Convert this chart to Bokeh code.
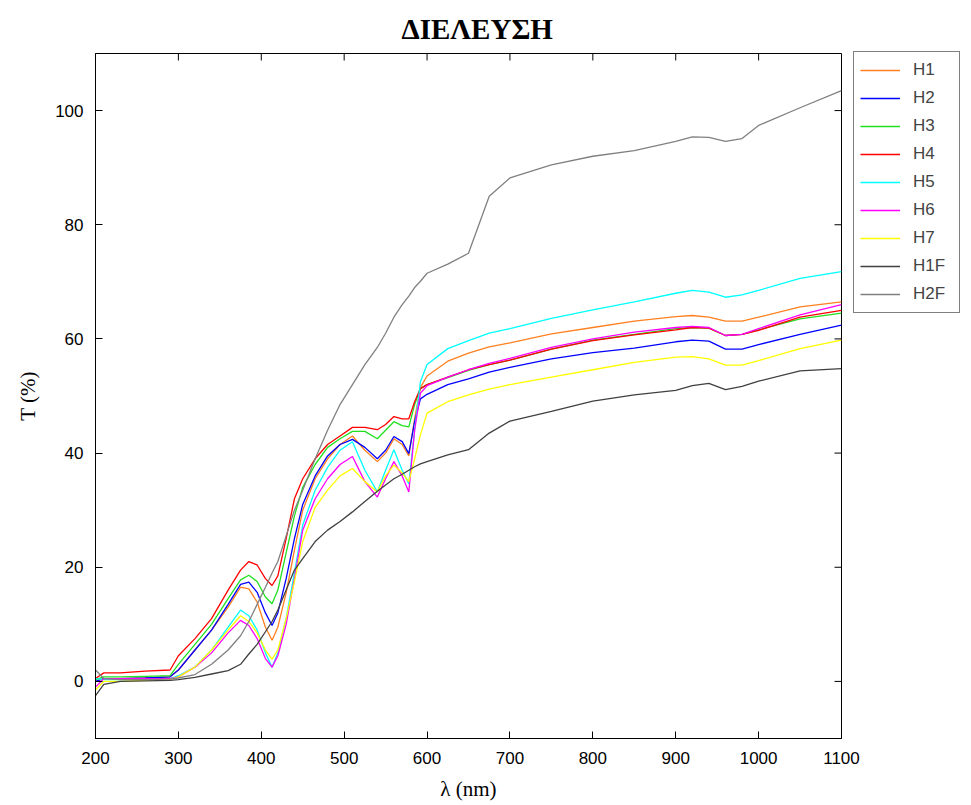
import math
from bokeh.plotting import figure
from bokeh.models import Range1d, Legend, LegendItem, FixedTicker
from bokeh.embed import file_html
from bokeh.resources import INLINE

# Wavelength grid (nm)
wavelength = [200, 210, 230, 260, 290, 300, 320, 340, 360, 375, 385, 395, 405, 413, 420,
              430, 440, 450, 465, 480, 495, 510, 525, 540, 550, 560, 570, 578, 585, 592,
              600, 625, 650, 675, 700, 750, 800, 850, 900, 920, 940, 960, 980, 1000, 1050, 1100]

H1 = [0, 0.5, 0.5, 0.6, 0.8, 2, 5.5, 9, 13, 16.5, 16.2, 13.9, 9.5, 7.2, 9.5,
      15.5, 23, 30, 35.5, 39, 41.5, 43, 40.5, 38.5, 40, 42.5, 41.5, 39.5, 46, 51.5,
      53.5, 56.1, 57.5, 58.6, 59.3, 60.9, 62, 63.1, 63.9, 64.1, 63.8, 63.1, 63.1, 63.8, 65.6, 66.5]
H2 = [0, 0.5, 0.5, 0.6, 0.8, 2, 5.5, 9, 13.5, 17, 17.4, 15.6, 12, 9.8, 12,
      18, 25, 31, 36, 39.5, 41.5, 42.4, 41, 39, 40.5, 42.9, 42, 39.9, 45.5, 49.5,
      50.3, 52, 53, 54.2, 55, 56.5, 57.6, 58.4, 59.5, 59.8, 59.6, 58.2, 58.2, 59, 60.8, 62.4]
H3 = [0.3, 0.8, 0.8, 0.9, 1.0, 3, 6.5, 10, 14.5, 17.8, 18.6, 17.5, 14.8, 13.6, 16,
      22.5, 29, 34, 38, 41, 42.5, 43.8, 43.8, 42.5, 44, 45.5, 44.8, 44.6, 48.5, 51.3,
      52, 53.2, 54.5, 55.5, 56.3, 58.2, 59.8, 60.8, 61.8, 62, 61.9, 60.6, 60.8, 61.6, 63.5, 64.5]
H4 = [0.5, 1.5, 1.5, 1.8, 2.0, 4.5, 7.5, 11, 16, 19.5, 21, 20.4, 18, 16.8, 18.5,
      25, 32, 35.5, 39, 41.5, 43, 44.5, 44.5, 44.1, 45, 46.4, 46, 46, 49, 51.3,
      52, 53.3, 54.6, 55.5, 56.3, 58.2, 59.7, 60.7, 61.6, 62, 61.9, 60.6, 60.8, 61.5, 63.8, 65]
H5 = [0.5, 0.3, 0.3, 0.3, 0.5, 1, 2.5, 5.5, 9.5, 12.5, 11.5, 9, 5, 2.5, 5,
      11, 19, 27.4, 33.5, 37.5, 40.5, 42, 37, 33.2, 37, 40.6, 37, 34.6, 44, 52.5,
      55.5, 58.3, 59.7, 61, 61.8, 63.6, 65.1, 66.5, 68, 68.5, 68.2, 67.3, 67.7, 68.5, 70.6, 71.8]
H6 = [-1, 0.5, 0.5, 0.5, 0.5, 0.8, 2.5, 5, 8.5, 10.7, 9.8, 7.5, 4, 2.5, 4.5,
      10, 18, 26.5, 32, 35.5, 38, 39.4, 35, 32.3, 35.5, 38.5, 36, 33.2, 44, 50.5,
      51.8, 53.3, 54.6, 55.7, 56.6, 58.5, 60, 61.2, 62, 62.2, 62, 60.6, 60.8, 61.8, 64.2, 66]
H7 = [-1.5, 0, 0, 0.2, 0.3, 0.8, 2.5, 5.5, 9, 11.5, 10.5, 8.5, 5.5, 3.9, 5.5,
      11, 17.5, 24.5, 30.5, 33.5, 36, 37.3, 35, 33.2, 36, 37.9, 36.5, 35, 39, 43.2,
      47, 49, 50.2, 51.2, 52, 53.3, 54.6, 55.9, 56.8, 56.9, 56.5, 55.4, 55.4, 56.2, 58.3, 59.8]
H1F = [-2.5, -0.5, 0, 0.1, 0.2, 0.3, 0.7, 1.3, 1.9, 3, 4.8, 6.5, 8.7, 10.5, 12.5,
       16, 19.5, 21.5, 24.5, 26.5, 28, 29.7, 31.5, 33.3, 34.4, 35.5, 36.3, 37, 37.6, 38.1,
       38.5, 39.7, 40.6, 43.5, 45.6, 47.3, 49.1, 50.2, 51.0, 51.8, 52.2, 51.1, 51.7, 52.6, 54.4, 54.8]
H2F = [2, 0.5, 0.3, 0.3, 0.4, 0.6, 1.2, 3, 5.5, 8, 10.5, 13.5, 16.5, 19, 21,
       25.5, 30, 33.5, 39, 44, 48.5, 52, 55.5, 58.5, 61, 63.8, 66, 67.5, 69, 70.1,
       71.5, 73.1, 75, 85, 88.2, 90.5, 92, 93, 94.6, 95.4, 95.3, 94.6, 95.1, 97.4, 100.5, 103.5]

series_names = ["H1", "H2", "H3", "H4", "H5", "H6", "H7", "H1F", "H2F"]
series_values = [H1, H2, H3, H4, H5, H6, H7, H1F, H2F]
series_colors = ["#ff8020", "#0000ff", "#20e020", "#ff0000", "#00ffff",
                 "#ff00ff", "#ffff00", "#404040", "#808080"]

x_ticks = [200, 300, 400, 500, 600, 700, 800, 900, 1000, 1100]
y_ticks = [0, 20, 40, 60, 80, 100]
x_min, x_max = 200, 1100
y_min, y_max = -10, 110

p = figure(frame_width=746, frame_height=685,
           x_range=Range1d(x_min, x_max), y_range=Range1d(y_min, y_max),
           output_backend="svg", toolbar_location=None,
           min_border_left=95, min_border_right=0,
           min_border_top=53, min_border_bottom=64,
           title="ΔΙΕΛΕΥΣΗ")

p.title.align = "left"
p.title.offset = 306
p.title.standoff = 18
p.title.text_font = "Liberation Serif"
p.title.text_font_style = "bold"
p.title.text_font_size = "29px"
p.title.text_color = "black"

p.background_fill_color = "white"
p.border_fill_color = "white"
p.outline_line_color = "black"
p.outline_line_width = 1
p.xgrid.visible = False
p.ygrid.visible = False

renderers = []
for vals, col in zip(series_values, series_colors):
    r = p.line(wavelength, vals, line_color=col, line_width=1.3)
    renderers.append(r)

for ax in (p.xaxis[0], p.yaxis[0]):
    ax.major_tick_in = 7
    ax.major_tick_out = 0
    ax.minor_tick_line_color = None
    ax.axis_line_color = "black"
    ax.major_tick_line_color = "black"
    ax.major_label_text_font = "Liberation Sans"
    ax.major_label_text_font_size = "17px"
    ax.major_label_text_color = "black"
    ax.axis_label_text_font = "Liberation Serif"
    ax.axis_label_text_font_style = "normal"
    ax.axis_label_text_font_size = "21px"
    ax.axis_label_text_color = "black"

p.xaxis[0].ticker = FixedTicker(ticks=x_ticks)
p.yaxis[0].ticker = FixedTicker(ticks=y_ticks)
p.xaxis[0].axis_label = "λ (nm)"
p.yaxis[0].axis_label = "T (%)"
p.xaxis[0].major_label_standoff = 13
p.yaxis[0].major_label_standoff = 12
p.xaxis[0].axis_label_standoff = 10
p.yaxis[0].axis_label_standoff = 12

# inward ticks on the top and right edges of the box
p.ray(x=x_ticks, y=[y_max] * len(x_ticks), length=7, length_units="screen",
      angle=-math.pi / 2, line_color="black", line_width=1)
p.ray(x=[x_max] * len(y_ticks), y=y_ticks, length=7, length_units="screen",
      angle=math.pi, line_color="black", line_width=1)

items = [LegendItem(label=n, renderers=[r]) for n, r in zip(series_names, renderers)]
legend = Legend(items=items, location=(12, 425), margin=0, padding=6,
                spacing=4, glyph_width=40, glyph_height=24, label_height=24,
                label_width=40, label_standoff=13,
                label_text_font="Liberation Sans", label_text_font_size="17px",
                border_line_color="black", border_line_width=1,
                background_fill_color="white", background_fill_alpha=1)
p.add_layout(legend, "right")

open("out.html", "w").write(file_html(p, INLINE))
